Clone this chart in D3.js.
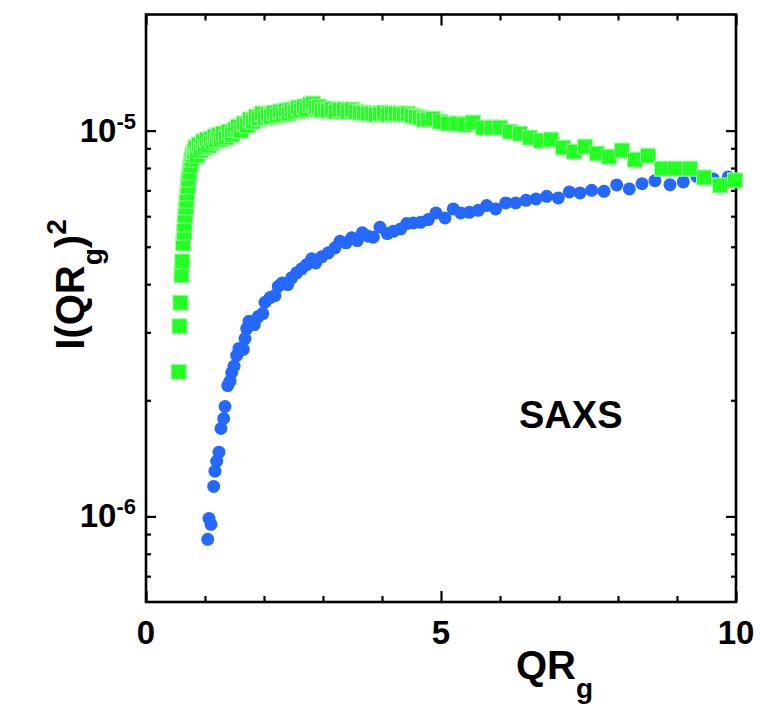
<!DOCTYPE html>
<html>
<head>
<meta charset="utf-8">
<script src="https://cdn.jsdelivr.net/npm/d3@7"></script>
<style>
  body { margin: 0; background: #fff; }
  svg text { font-family: "Liberation Sans", Arial, sans-serif; font-weight: bold; fill: #000; }
</style>
</head>
<body>
<div id="chart"></div>
<script>
// I(QR_g)^2 values are in units of 1e-6
const blueQR = [1.046, 1.068, 1.102, 1.147, 1.169, 1.198, 1.237, 1.271, 1.317, 1.339,
  1.385, 1.424, 1.453, 1.492, 1.537, 1.576, 1.649, 1.678, 1.707, 1.746,
  1.836, 1.903, 1.978, 2.017, 2.102, 2.186, 2.242, 2.31, 2.402, 2.469,
  2.554, 2.639, 2.724, 2.808, 2.876, 2.978, 3.09, 3.203, 3.288, 3.39,
  3.486, 3.581, 3.666, 3.768, 3.853, 3.966, 4.09, 4.192, 4.317, 4.419,
  4.531, 4.656, 4.785, 4.915, 5.068, 5.208, 5.334, 5.48, 5.632, 5.775,
  5.927, 6.097, 6.266, 6.441, 6.61, 6.792, 6.988, 7.175, 7.356, 7.554,
  7.763, 7.978, 8.192, 8.407, 8.627, 8.881, 9.107, 9.334, 9.615, 9.869];
const blueI = [0.872, 0.988, 0.954, 1.196, 1.310, 1.390, 1.467, 1.690, 1.794, 1.927,
  2.184, 2.241, 2.361, 2.451, 2.614, 2.725, 2.709, 2.891, 3.069, 3.206,
  3.143, 3.296, 3.356, 3.59, 3.692, 3.736, 3.949, 4.03, 3.99, 4.153,
  4.279, 4.383, 4.496, 4.652, 4.541, 4.708, 4.822, 4.967, 5.167, 5.118,
  5.273, 5.189, 5.433, 5.324, 5.292, 5.617, 5.41, 5.484, 5.563, 5.742,
  5.766, 5.786, 5.88, 6.12, 5.94, 6.268, 6.12, 6.142, 6.216, 6.393,
  6.268, 6.497, 6.497, 6.598, 6.654, 6.758, 6.693, 6.937, 6.896, 7.003,
  6.961, 7.231, 7.062, 7.288, 7.42, 7.245, 7.362, 7.612, 7.495, 7.585];

const greenQR = [0.554, 0.568, 0.585, 0.602, 0.615, 0.627, 0.644, 0.653, 0.661, 0.678,
  0.686, 0.695, 0.712, 0.720, 0.737, 0.754, 0.771, 0.788, 0.814, 0.839,
  0.864, 0.898, 0.932, 0.966, 1.0, 1.034, 1.068, 1.102, 1.136, 1.169,
  1.203, 1.237, 1.271, 1.305, 1.356, 1.407, 1.458, 1.508, 1.559, 1.610,
  1.661, 1.712, 1.763, 1.814, 1.864, 1.915, 1.966, 2.017, 2.068, 2.119,
  2.169, 2.220, 2.271, 2.322, 2.373, 2.424, 2.475, 2.525, 2.576, 2.627,
  2.678, 2.729, 2.780, 2.831, 2.881, 2.932, 2.983, 3.034, 3.085, 3.153,
  3.220, 3.288, 3.356, 3.424, 3.492, 3.559, 3.627, 3.695, 3.763, 3.831,
  3.898, 3.966, 4.034, 4.102, 4.169, 4.237, 4.305, 4.373, 4.441, 4.508,
  4.576, 4.644, 4.712, 4.780, 4.864, 4.983, 5.119, 5.271, 5.407, 5.542,
  5.712, 5.864, 6.0, 6.169, 6.339, 6.508, 6.695, 6.864, 7.068, 7.254,
  7.441, 7.644, 7.847, 8.068, 8.288, 8.508, 8.746, 8.966, 9.220, 9.458,
  9.729, 9.983];
const greenI = [2.37, 3.11, 3.58, 4.22, 4.58, 5.10, 5.44, 5.71, 6.02, 6.32,
  6.59, 6.87, 7.16, 7.47, 7.78, 8.11, 8.41, 8.67, 8.82, 9.04,
  8.61, 9.20, 8.88, 9.37, 9.04, 9.48, 9.14, 9.53, 9.31, 9.65,
  9.42, 9.76, 9.48, 9.82, 9.59, 9.94, 9.76, 10.06, 10.24, 10.0,
  10.43, 10.30, 10.68, 10.55, 10.87, 10.74, 11.07, 10.81, 11.00, 10.87,
  11.13, 10.94, 11.20, 11.00, 11.27, 11.07, 11.34, 11.20, 11.47, 11.27,
  11.54, 11.34, 11.68, 11.75, 11.47, 11.54, 11.27, 11.34, 11.27, 11.40,
  11.20, 11.34, 11.34, 11.20, 11.34, 11.20, 11.13, 11.13, 11.07, 11.07,
  11.00, 11.07, 11.13, 11.00, 11.07, 11.07, 11.07, 11.00, 11.07, 10.94,
  10.87, 10.81, 10.68, 10.68, 10.74, 10.55, 10.43, 10.43, 10.36, 10.49,
  10.18, 10.18, 10.18, 9.94, 9.82, 9.59, 9.42, 9.48, 9.04, 8.82,
  9.09, 8.72, 8.56, 8.88, 8.41, 8.61, 7.97, 7.97, 7.97, 7.56,
  7.21, 7.43];

const xMajor = [0, 5, 10];
const xMinor = [1, 2, 3, 4, 6, 7, 8, 9];
const yMajor = [1e-6, 1e-5];
const yMajorLabels = [["10", "-6"], ["10", "-5"]];
const yMinor = [7e-7, 8e-7, 9e-7, 2e-6, 3e-6, 4e-6, 5e-6, 6e-6, 7e-6, 8e-6, 9e-6];

// set the dimensions and margins of the graph
var margin = {top: 14.5, right: 24, bottom: 107, left: 146},
    width = 760 - margin.left - margin.right,
    height = 709 - margin.top - margin.bottom;

var x = d3.scaleLinear().domain([0, 10]).range([0, width]);
var y = d3.scaleLog().domain([6e-7, 2e-5]).range([height, 0]);

var svg = d3.select("#chart").append("svg")
    .attr("width", 760)
    .attr("height", 709)
    .append("g")
    .attr("transform", "translate(" + margin.left + "," + margin.top + ")");

// inward ticks on all four sides
function ticks(axis, vals, size, transform) {
    var g = svg.append("g")
        .attr("transform", transform || null)
        .call(axis.tickValues(vals).tickSize(-size).tickFormat(""));
    g.select(".domain").remove();
    g.selectAll("line").attr("stroke", "#000").attr("stroke-width", 2.2);
}
ticks(d3.axisBottom(x), xMajor, 11, "translate(0," + height + ")");
ticks(d3.axisBottom(x), xMinor, 6, "translate(0," + height + ")");
ticks(d3.axisTop(x), xMajor, 11);
ticks(d3.axisTop(x), xMinor, 6);
ticks(d3.axisLeft(y), yMajor, 10);
ticks(d3.axisLeft(y), yMinor, 5);
ticks(d3.axisRight(y), yMajor, 10, "translate(" + width + ",0)");
ticks(d3.axisRight(y), yMinor, 5, "translate(" + width + ",0)");

// frame
svg.append("rect")
    .attr("width", width).attr("height", height)
    .attr("fill", "none").attr("stroke", "#000").attr("stroke-width", 2.6);

// x tick labels
svg.selectAll(".xlab").data(xMajor).enter().append("text")
    .attr("x", d => x(d)).attr("y", height + 42)
    .attr("text-anchor", "middle").attr("font-size", 33)
    .text(d => d);

// y tick labels with superscript
yMajor.forEach(function(v, i) {
    var t = svg.append("text")
        .attr("x", -10).attr("y", y(v) + 11)
        .attr("text-anchor", "end").attr("font-size", 33);
    t.append("tspan").text(yMajorLabels[i][0]);
    t.append("tspan").attr("font-size", 22).attr("dy", -13).text(yMajorLabels[i][1]);
});

// data points
var blue = blueQR.map((q, i) => ({q: q, v: blueI[i] * 1e-6}));
var green = greenQR.map((q, i) => ({q: q, v: greenI[i] * 1e-6}));

svg.selectAll(".b").data(blue).enter().append("circle")
    .attr("cx", d => x(d.q)).attr("cy", d => y(d.v)).attr("r", 6.5)
    .attr("fill", "#2468ff");

svg.selectAll(".g").data(green).enter().append("rect")
    .attr("x", d => x(d.q) - 7.5).attr("y", d => y(d.v) - 7.5)
    .attr("width", 15).attr("height", 15)
    .attr("fill", "#22ff22").attr("stroke", "#9cff9c").attr("stroke-width", 1);

// axis titles
var xt = svg.append("text")
    .attr("x", 370).attr("y", height + 77).attr("font-size", 40);
xt.append("tspan").text("QR");
xt.append("tspan").attr("font-size", 28).attr("dy", 19).text("g");

var yt = svg.append("text")
    .attr("transform", "translate(-62," + 270 + ") rotate(-90)")
    .attr("text-anchor", "middle").attr("font-size", 40);
yt.append("tspan").text("I(QR");
yt.append("tspan").attr("font-size", 28).attr("dy", 18).text("g");
yt.append("tspan").attr("dy", -18).text(")");
yt.append("tspan").attr("font-size", 28).attr("dy", -18).text("2");

svg.append("text")
    .attr("x", 373).attr("y", 413).attr("font-size", 38)
    .text("SAXS");
</script>
</body>
</html>
